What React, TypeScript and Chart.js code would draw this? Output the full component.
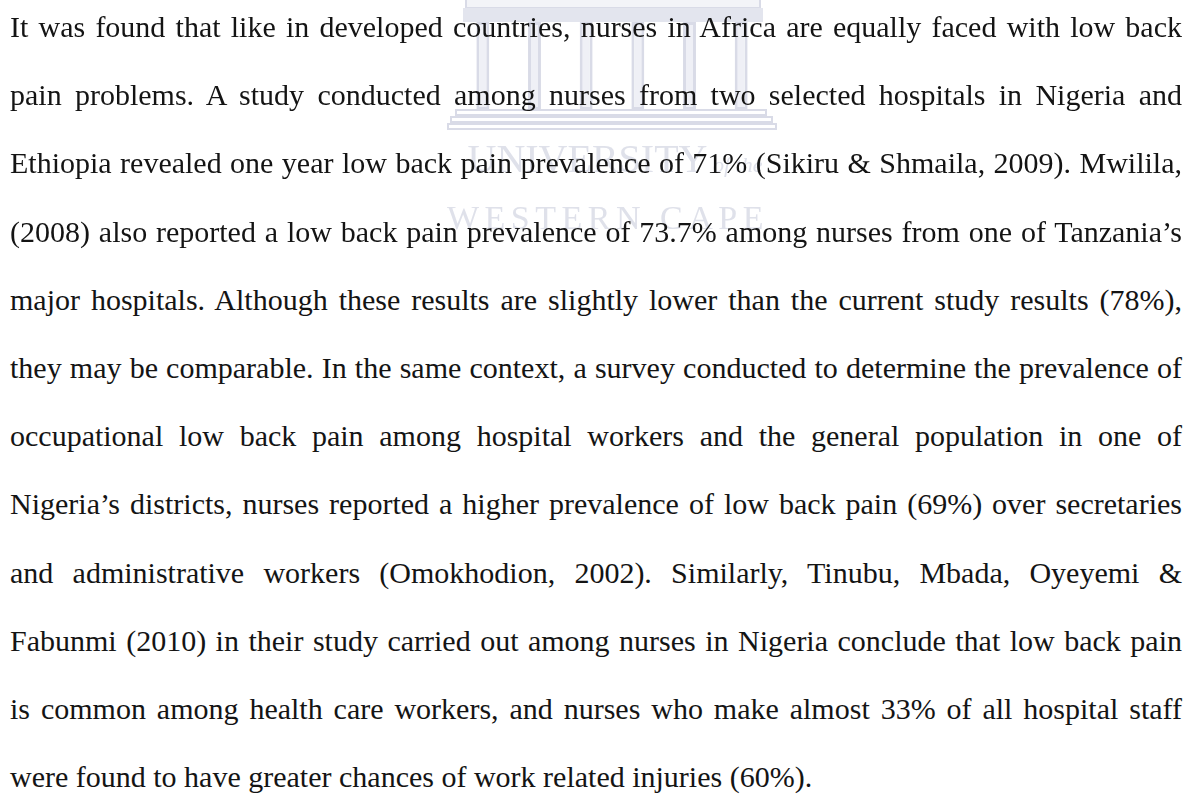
import React, { useEffect, useRef } from "react";
import { Chart, registerables } from "chart.js";

Chart.register(...registerables);

// Paragraph lines (as printed on the page)
const lines: string[] = [
  "It was found that like in developed countries, nurses in Africa are equally faced with low back",
  "pain problems. A study conducted among nurses from two selected hospitals in Nigeria and",
  "Ethiopia revealed one year low back pain prevalence of 71% (Sikiru & Shmaila, 2009). Mwilila,",
  "(2008) also reported a low back pain prevalence of 73.7% among nurses from one of Tanzania\u2019s",
  "major hospitals. Although these results are slightly lower than the current study results (78%),",
  "they may be comparable. In the same context, a survey conducted to determine the prevalence of",
  "occupational low back pain among hospital workers and the general population in one of",
  "Nigeria\u2019s districts, nurses reported a higher prevalence of low back pain (69%) over secretaries",
  "and administrative workers (Omokhodion, 2002). Similarly, Tinubu, Mbada, Oyeyemi &",
  "Fabunmi (2010) in their study carried out among nurses in Nigeria conclude that low back pain",
  "is common among health care workers, and nurses who make almost 33% of all hospital staff",
  "were found to have greater chances of work related injuries (60%).",
];

// Watermark (University of the Western Cape logo) columns
const columnLabels: string[] = ["c1", "c2", "c3", "c4", "c5", "c6"];
const columnBottom: number[] = [20, 20, 20, 20, 20, 20];
const columnTop: number[] = [108, 108, 108, 108, 108, 108];

const WM = "#d9dbe7";
const WM_TEXT = "#dfe1ea";

function Watermark() {
  const ref = useRef<HTMLCanvasElement | null>(null);
  useEffect(() => {
    if (!ref.current) return;
    const chart = new Chart(ref.current, {
      type: "bar",
      data: {
        labels: columnLabels,
        datasets: [
          {
            data: columnLabels.map((_, i) => [columnBottom[i], columnTop[i]]) as any,
            backgroundColor: "#eff0f6",
            borderColor: WM,
            borderWidth: 3,
            borderSkipped: false,
            categoryPercentage: 1,
            barPercentage: 0.25,
          },
        ],
      },
      options: {
        animation: false,
        responsive: false,
        maintainAspectRatio: false,
        layout: { padding: 0 },
        plugins: { legend: { display: false }, tooltip: { enabled: false } },
        scales: {
          x: { display: false },
          y: { display: false, min: 0, max: 130 },
        },
      },
    });
    return () => chart.destroy();
  }, []);
  const box = (l: number, t: number, w: number, h: number) => ({
    position: "absolute" as const,
    left: l,
    top: t,
    width: w,
    height: h,
    border: `2px solid ${WM}`,
    boxSizing: "border-box" as const,
  });
  return (
    <>
      {/* pediment frame */}
      <div style={{ ...box(465, -2, 296, 11), background: "#f3f4f8" }} />
      {/* entablature */}
      <div style={{ position: "absolute", left: 463, top: 8, width: 300, height: 14, background: "#e3e5ee" }} />
      <canvas
        ref={ref}
        width={310}
        height={130}
        style={{ position: "absolute", left: 457, top: 0, width: 310, height: 130 }}
      />
      {/* steps */}
      <div style={box(455, 109, 312, 7)} />
      <div style={box(450, 116, 323, 7)} />
      <div style={box(447, 123, 330, 7)} />
      {/* lettering */}
      <div
        style={{
          position: "absolute",
          left: 450,
          top: 139,
          width: 330,
          textAlign: "center",
          fontFamily: "'Liberation Serif', serif",
          fontSize: 40,
          lineHeight: "40px",
          color: WM_TEXT,
          whiteSpace: "nowrap",
        }}
      >
        UNIVERSITY<span style={{ fontStyle: "italic", fontSize: 22 }}> of the</span>
      </div>
      <div
        style={{
          position: "absolute",
          left: 447,
          top: 201,
          width: 340,
          textAlign: "left",
          fontFamily: "'Liberation Serif', serif",
          fontSize: 34,
          lineHeight: "34px",
          color: WM_TEXT,
          letterSpacing: 5.5,
          whiteSpace: "nowrap",
        }}
      >
        WESTERN CAPE
      </div>
    </>
  );
}

export default function App() {
  const left = 10;
  const width = 1172;
  const firstTop = 12;
  const step = 68.2;
  return (
    <div
      style={{
        position: "absolute",
        left: 0,
        top: 0,
        width: 1188,
        height: 801,
        overflow: "hidden",
        background: "#ffffff",
      }}
    >
      <Watermark />
      {lines.map((t, i) => {
        const last = i === lines.length - 1;
        return (
          <div
            key={i}
            style={{
              position: "absolute",
              left,
              top: firstTop + step * i,
              width,
              fontFamily: "'Liberation Serif', 'Times New Roman', serif",
              fontSize: 30,
              lineHeight: "30px",
              color: "#141414",
              whiteSpace: "nowrap",
              textAlign: last ? "left" : "justify",
              textAlignLast: last ? "left" : "justify",
            }}
          >
            {t}
          </div>
        );
      })}
    </div>
  );
}
